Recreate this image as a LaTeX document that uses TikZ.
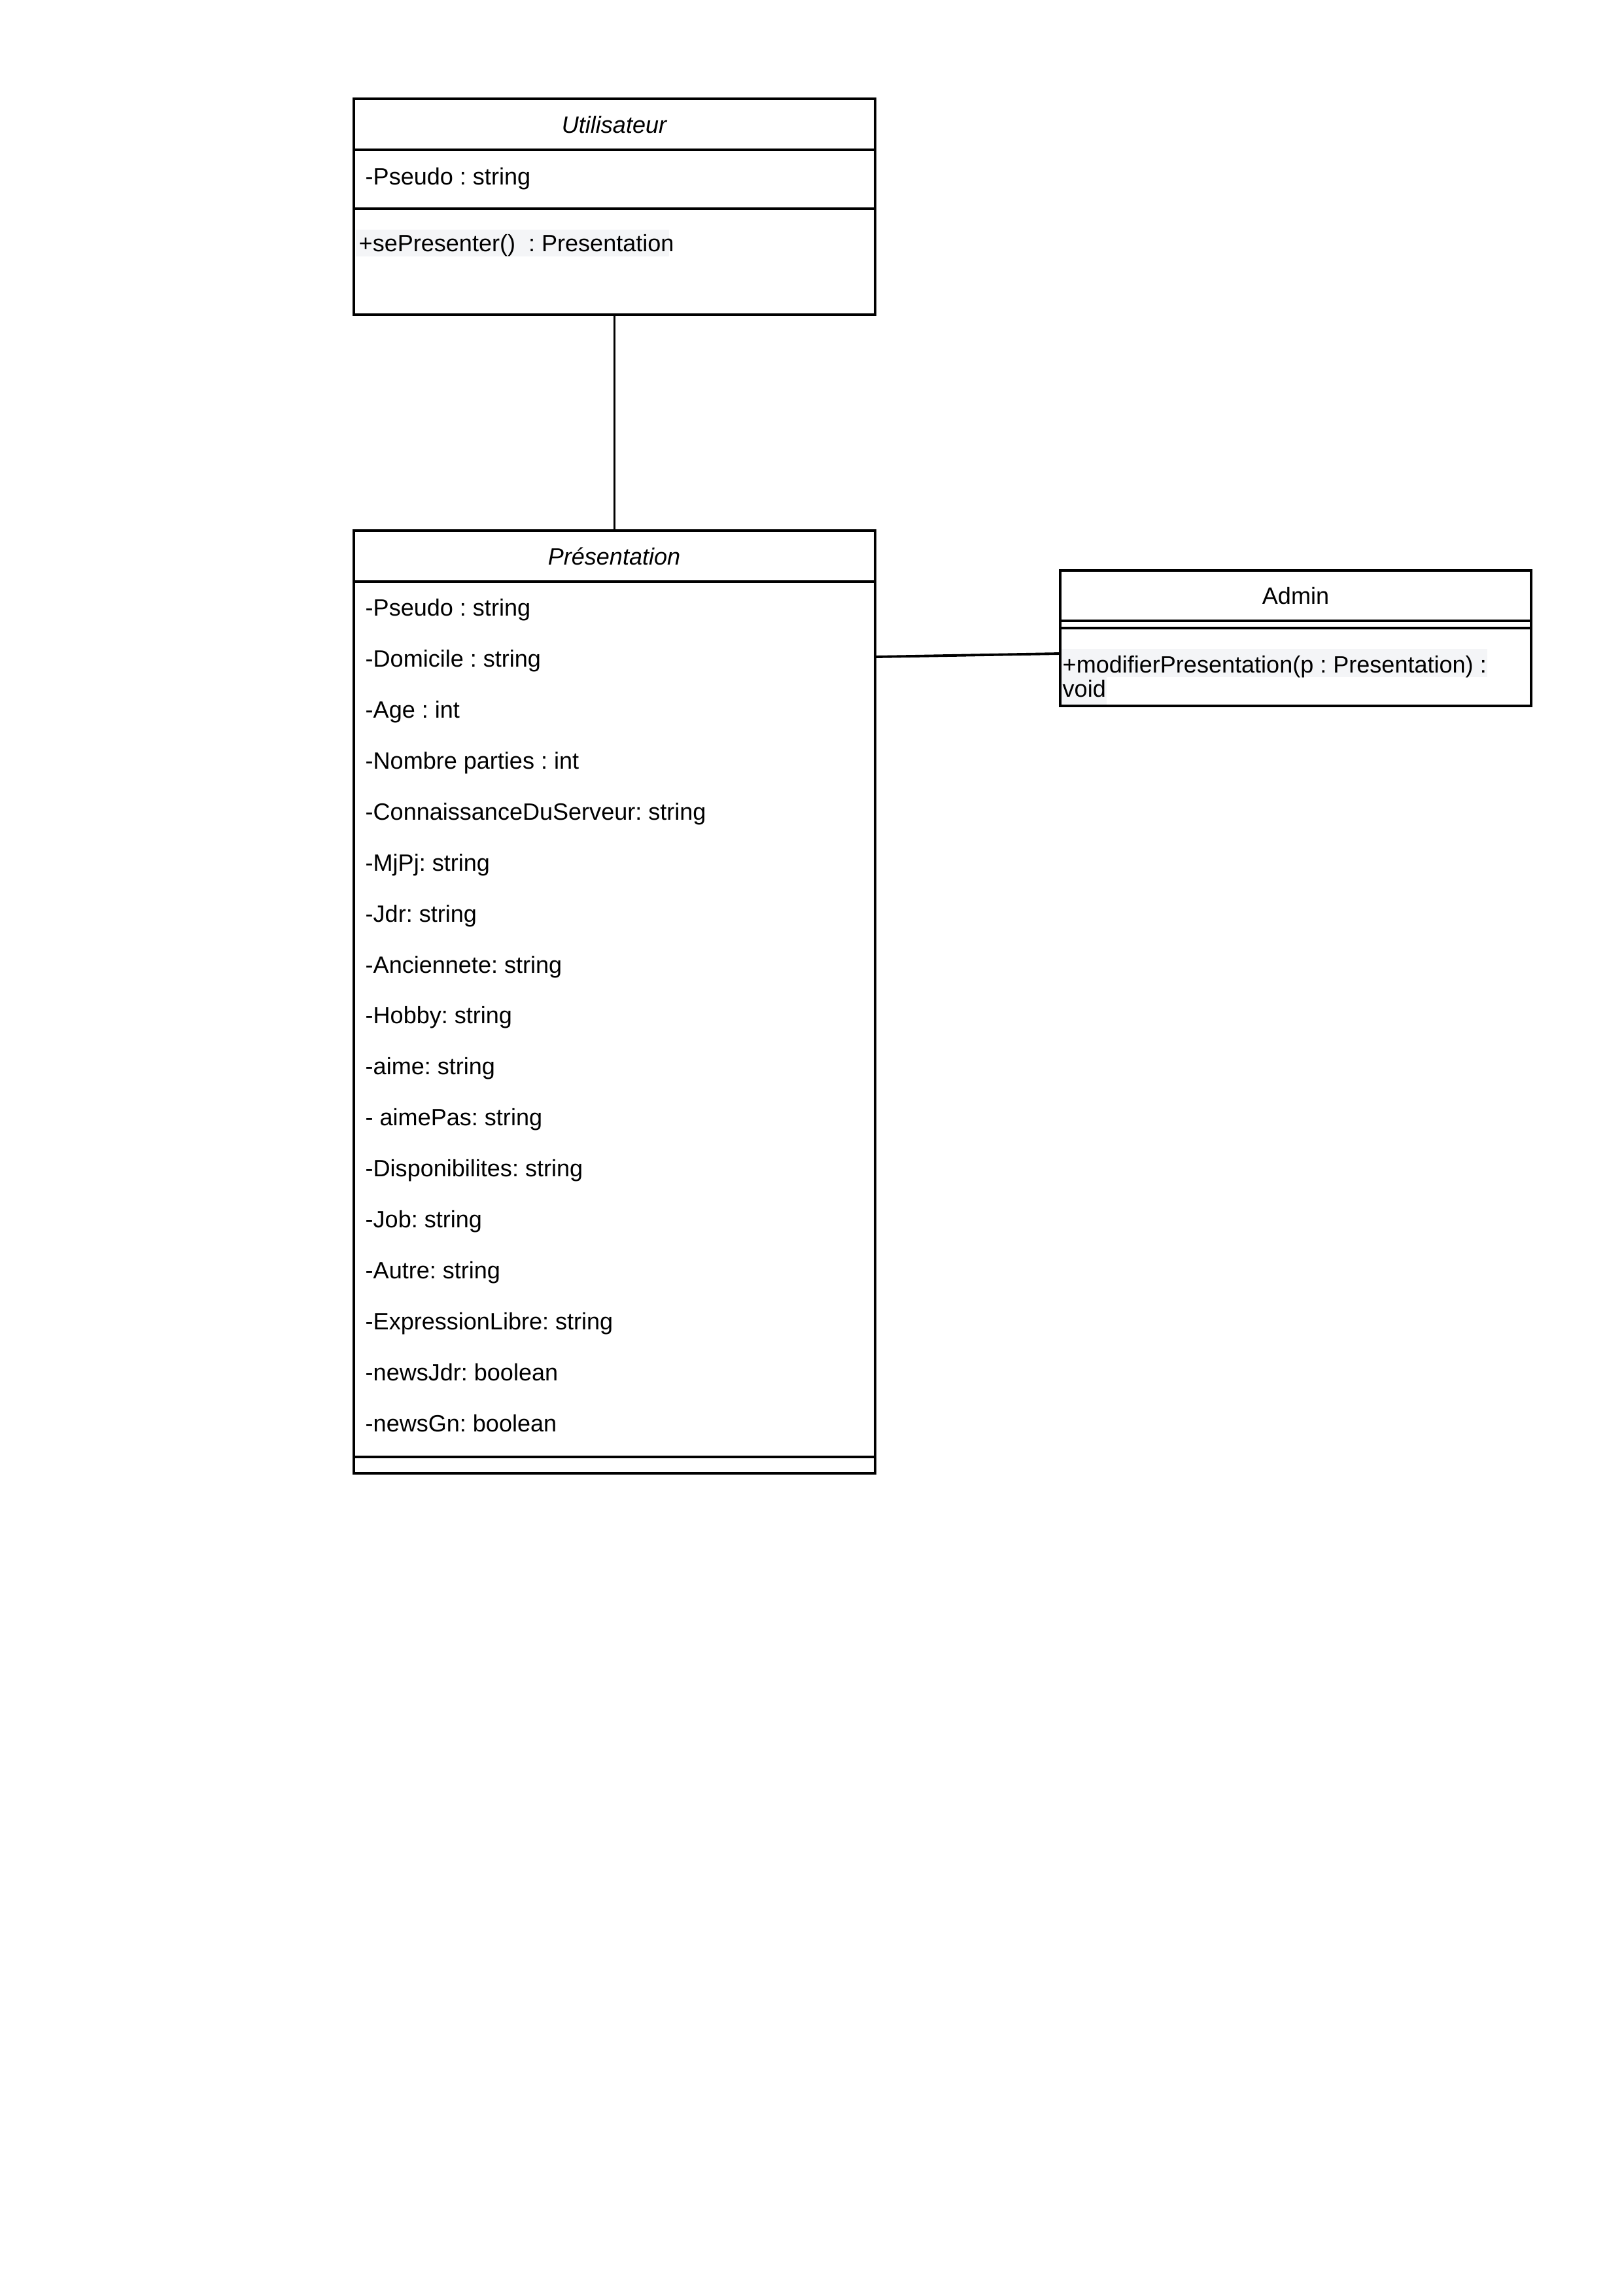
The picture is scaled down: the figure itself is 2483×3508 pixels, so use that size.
\documentclass[tikz,border=0pt]{standalone}
\usepackage{fontspec}
\setmainfont{Liberation Sans}
\usetikzlibrary{fit}
\definecolor{hl}{HTML}{F4F5F7}
\frenchspacing
\begin{document}
\begin{tikzpicture}[x=0.01cm,y=-0.01cm,
  box/.style={draw, line width=1.1pt, inner sep=0pt, outer sep=0pt},
  sep/.style={line width=1.1pt},
  link/.style={line width=1.1pt},
  txt/.style={inner sep=0pt, anchor=base west, font=\fontsize{10.25}{12}\selectfont},
  ttl/.style={inner sep=0pt, anchor=base, font=\fontsize{10.25}{12}\selectfont},
  hilite/.style={fill=hl, draw=none}]
\useasboundingbox (0,0) rectangle (2483,3508);

% ---- class Utilisateur ----
\fill[hilite] (544,351) rectangle (1023,392);
\node[box, fit={(541,151) (1338,481)}] (util) {};
\draw[sep] (541,229) -- (1338,229);
\draw[sep] (541,319) -- (1338,319);
\node[ttl] (utilT) at (939,203) {\itshape Utilisateur};
\node[txt] (utilA) at (558,282) {-Pseudo : string};
\node[txt] (utilM) at (548,384) {+sePresenter()~~: Presentation};

% ---- class Présentation ----
\node[box, fit={(541,811) (1338,2252)}] (pres) {};
\draw[sep] (541,889) -- (1338,889);
\draw[sep] (541,2227) -- (1338,2227);
\node[ttl] (presT) at (939,863) {\itshape Présentation};
\foreach \t [count=\i from 0] in {%
  -Pseudo : string,
  -Domicile : string,
  -Age : int,
  -Nombre parties : int,
  -ConnaissanceDuServeur: string,
  -MjPj: string,
  -Jdr: string,
  -Anciennete: string,
  -Hobby: string,
  -aime: string,
  - aimePas: string,
  -Disponibilites: string,
  -Job: string,
  -Autre: string,
  -ExpressionLibre: string,
  -newsJdr: boolean,
  -newsGn: boolean}
  \node[txt] (presA\i) at (558,{941.7+77.9*\i}) {\t};

% ---- class Admin ----
\fill[hilite] (1621,992) rectangle (2274,1035);
\fill[hilite] (1621,1035) rectangle (1692,1077);
\node[box, fit={(1621,872) (2341,1079)}] (admin) {};
\draw[sep] (1621,949) -- (2341,949);
\draw[sep] (1621,960) -- (2341,960);
\node[ttl] (adminT) at (1981,923) {Admin};
\node[txt] (adminM1) at (1624,1028) {+modifierPresentation(p : Presentation) :};
\node[txt] (adminM2) at (1624,1065) {void};

% ---- associations ----
\coordinate (yP) at (0,1004);
\coordinate (yA) at (0,999);
\draw[link] (util.south) -- (pres.north);
\draw[link] (pres.north east |- yP) -- (admin.north west |- yA);
\end{tikzpicture}
\end{document}
